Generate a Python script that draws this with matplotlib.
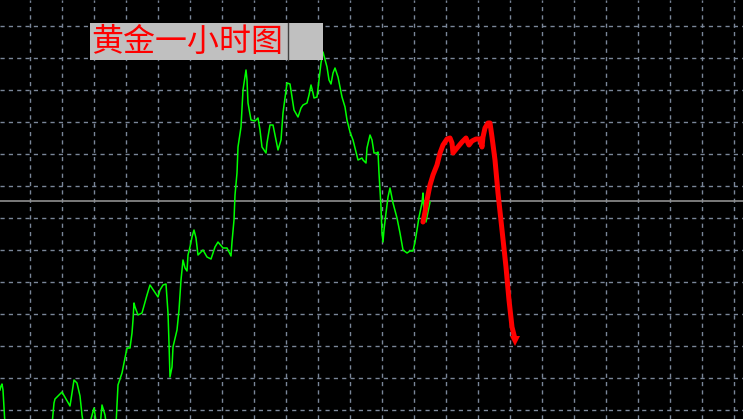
import numpy as np
import matplotlib
matplotlib.use("Agg")
import matplotlib.pyplot as plt
from matplotlib.patches import Rectangle

plt.rcParams['font.family'] = ['Noto Sans CJK SC', 'DejaVu Sans']

# gold 1h line chart, price in chart units (grid step = 32)
bar_x = [0, 1, 2, 3, 5, 20, 40, 52, 54, 55, 58, 62, 66, 70, 74, 77, 80, 82, 84, 88,
         94, 97, 100, 102, 105, 107, 112, 116, 118, 122, 125, 127, 130, 132, 133, 134,
         135, 138, 142, 147, 150, 154, 158, 160, 163, 166, 168, 169, 170, 172, 173, 177,
         179, 181, 183, 185, 187, 188, 190, 192, 194, 196, 198, 203, 207, 211, 215, 218,
         223, 227, 229, 231, 232, 234, 235, 237, 238, 241, 243, 246, 247, 248, 251, 255,
         258, 260, 262, 266, 267, 270, 273, 276, 278, 281, 283, 287, 290, 292, 294, 298,
         301, 303, 307, 309, 311, 313, 314, 317, 319, 321, 323, 327, 329, 331, 333, 335,
         338, 340, 342, 345, 347, 350, 353, 356, 358, 362, 363, 366, 367, 370, 372, 374,
         377, 378, 379, 381, 382, 383, 384, 386, 388, 390, 393, 397, 400, 403, 407, 410,
         413, 415, 417, 419, 422, 423, 424, 426, 428, 430]
price = [29, 33, 35, 29, -6, -26, -21, -6, 16, 20, 23, 27, 20, 13, 39, 36, 23, 4, -9, -11,
         11, -9, -9, 14, 4, -11, -21, -6, 34, 46, 61, 71, 71, 86, 99, 116,
         112, 104, 106, 124, 134, 128, 122, 129, 134, 135, 106, 76, 42, 52, 72, 89,
         109, 139, 159, 151, 148, 164, 172, 182, 189, 181, 164, 169, 162, 160, 172, 177,
         171, 171, 167, 163, 177, 199, 224, 246, 272, 292, 329, 349, 339, 316, 299, 298,
         301, 289, 272, 266, 276, 294, 294, 279, 269, 279, 306, 336, 335, 322, 309, 302,
         311, 314, 316, 324, 334, 326, 321, 322, 339, 356, 367, 352, 339, 335, 346, 351,
         342, 332, 322, 312, 299, 287, 279, 267, 259, 261, 259, 256, 271, 284, 279, 266,
         266, 267, 246, 212, 186, 177, 189, 206, 222, 231, 216, 201, 186, 169, 166, 168,
         168, 177, 189, 202, 216, 226, 206, 197, 207, 217]

# hand-drawn forecast
fc_x = [423, 425, 427, 430, 433, 437, 440, 443, 447, 450, 452, 453, 457, 462, 466, 468,
        469, 472, 476, 480, 482, 483, 485, 488, 490, 492, 495, 498, 502, 506, 509, 512, 515]
fc_y = [197, 207, 219, 234, 244, 254, 266, 274, 280, 281, 276, 266, 271, 277, 281, 276,
        274, 278, 280, 280, 272, 282, 291, 296, 296, 282, 259, 226, 189, 152, 119, 92, 80]

current_price = 218
title = '黄金一小时图'

fig = plt.figure(figsize=(7.43, 4.19), dpi=100)
fig.patch.set_facecolor('black')
ax = fig.add_axes([0, 0, 1, 1])
ax.set_facecolor('black')
ax.set_xlim(0, 743)
ax.set_ylim(0, 419)

ax.set_xticks(np.arange(30, 743, 32))
ax.set_yticks(np.arange(9, 419, 32))
ax.grid(True, color='#7A8699', linestyle=(0, (3, 3)), linewidth=1)
ax.tick_params(length=0, labelbottom=False, labelleft=False)
for s in ax.spines.values():
    s.set_visible(False)

ax.axhline(current_price, color='#909090', lw=1.2, zorder=2)

ax.plot(bar_x, price, color='#00FF00', lw=1.1, zorder=3)
ax.plot(fc_x, fc_y, color='#FF0000', lw=3.6, solid_capstyle='round',
        solid_joinstyle='round', zorder=4)
# arrow head at the end of the forecast
ax.plot(fc_x[-1], fc_y[-1] - 2, marker='v', ms=7, color='#FF0000',
        markeredgewidth=0, zorder=5)

# title label box
ax.add_patch(Rectangle((90, 359), 233, 37, facecolor='#C0C0C0',
                       edgecolor='none', zorder=6))
ax.plot([288, 288], [359, 396], color='#404040', lw=1, zorder=7)
ax.text(91, 377.5, title, color='#FF0000', fontsize=23, va='center',
        ha='left', zorder=7)

fig.savefig('out.png', dpi=100, facecolor='black')
